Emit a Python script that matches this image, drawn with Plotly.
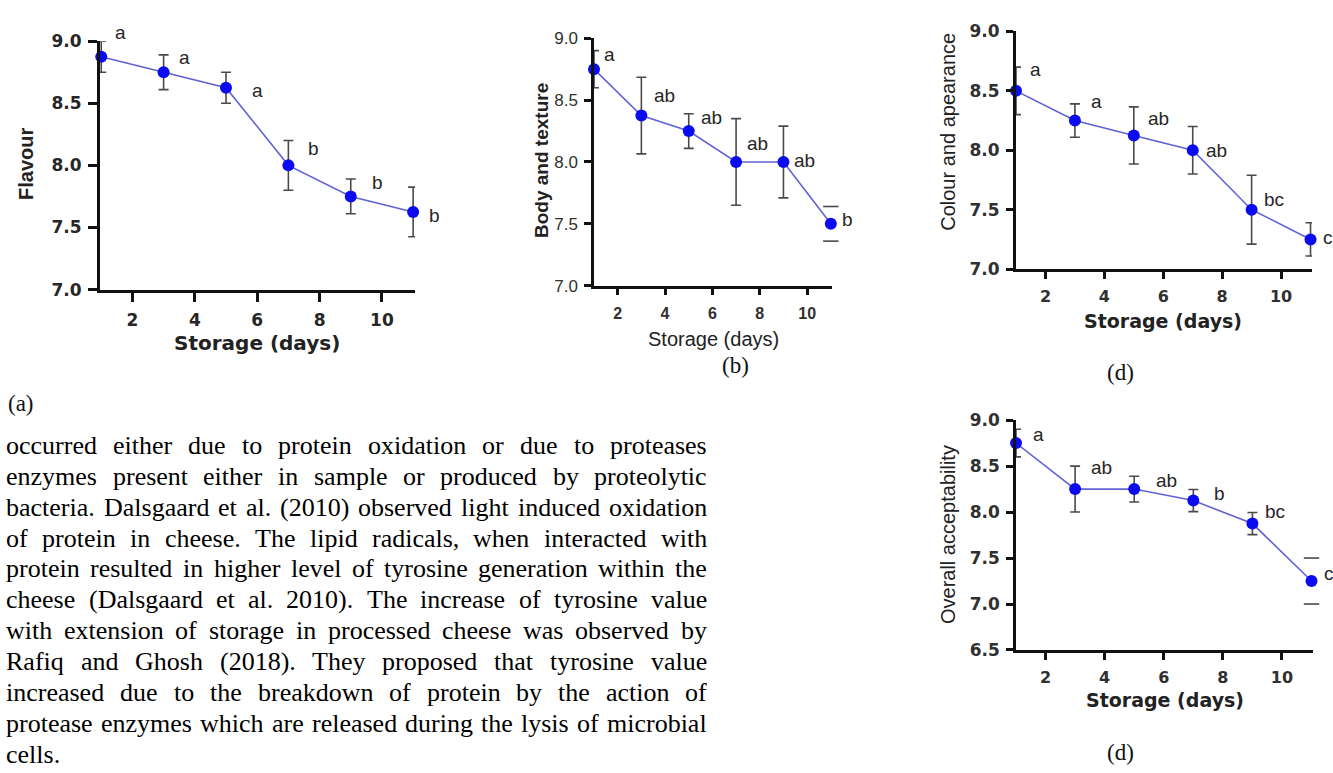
import plotly.graph_objects as go

W, H = 1333, 773

# ---------------- data ----------------
days = [1, 3, 5, 7, 9, 11]
x_ticks = [2, 4, 6, 8, 10]

flavour = [8.875, 8.75, 8.625, 8.0, 7.75, 7.625]
flavour_err = [0.125, 0.14, 0.125, 0.2, 0.14, 0.2]
flavour_grp = ["a", "a", "a", "b", "b", "b"]

body = [8.75, 8.375, 8.25, 8.0, 8.0, 7.5]
body_err = [0.15, 0.31, 0.14, 0.35, 0.29, 0.14]
body_grp = ["a", "ab", "ab", "ab", "ab", "b"]

colour = [8.5, 8.25, 8.125, 8.0, 7.5, 7.25]
colour_err = [0.2, 0.14, 0.24, 0.2, 0.29, 0.14]
colour_grp = ["a", "a", "ab", "ab", "bc", "c"]

overall = [8.75, 8.25, 8.25, 8.125, 7.875, 7.25]
overall_err = [0.15, 0.25, 0.14, 0.12, 0.12, 0.25]
overall_grp = ["a", "ab", "ab", "b", "bc", "c"]

y_ticks_a = [7.0, 7.5, 8.0, 8.5, 9.0]
y_ticks_d = [6.5, 7.0, 7.5, 8.0, 8.5, 9.0]

para_lines = [
    "occurred either due to protein oxidation or due to proteases",
    "enzymes present either in sample or produced by proteolytic",
    "bacteria. Dalsgaard et al. (2010) observed light induced oxidation",
    "of protein in cheese. The lipid radicals, when interacted with",
    "protein resulted in higher level of tyrosine generation within the",
    "cheese (Dalsgaard et al. 2010). The increase of tyrosine value",
    "with extension of storage in processed cheese was observed by",
    "Rafiq and Ghosh (2018).   They proposed that tyrosine value",
    "increased due to the breakdown of protein by the action of",
    "protease enzymes which are released during the lysis of microbial",
    "cells.",
]

# ---------------- styling ----------------
SANS = "Liberation Sans, Arial, sans-serif"
NARROW = "Liberation Sans Narrow, Arial Narrow, Liberation Sans, Arial, sans-serif"
VERD = "DejaVu Sans, Verdana, sans-serif"
SERIF = "Liberation Serif, Times New Roman, serif"

MARKER_C = "#0b0bef"
LINE_C = "#6262d4"
ERR_C = "#4a4a4a"


def px(x):
    return x / W


def py(y):
    return 1 - y / H


panels = [
    dict(name="flavour", y=flavour, err=flavour_err, grp=flavour_grp, cap_only=[],
         xd=(100, 415), yd=(32, 287), xr=[0.96, 11.06], yr=[7.0, 9.0], yt=y_ticks_a,
         tickfont_y=dict(family=VERD, size=17, color="#262626", weight="bold"),
         tickfont_x=dict(family=VERD, size=17, color="#262626", weight="bold"),
         lw=3, tl=9,
         ytitle="Flavour", ytitle_pos=(26, 158), ytitle_font=dict(family=SANS, size=20, color="#222", weight="bold"),
         xtitle="Storage (days)", xtitle_pos=(257, 342), xtitle_font=dict(family=VERD, size=20, color="#222", weight="bold"),
         shifts=[(19, 24), (21, 15), (31, -3), (25, 17), (27, 14), (21, -4)]),
    dict(name="body", y=body, err=body_err, grp=body_grp, cap_only=[5],
         xd=(594, 832), yd=(29, 283), xr=[1.0, 11.05], yr=[7.0, 9.0], yt=y_ticks_a,
         tickfont_y=dict(family=SANS, size=17, color="#303030"),
         tickfont_x=dict(family=SANS, size=16, color="#303030", weight="bold"),
         lw=2.5, tl=7,
         ytitle="Body and texture", ytitle_pos=(542, 155), ytitle_font=dict(family=SANS, size=19, color="#222", weight="bold"),
         xtitle="Storage (days)", xtitle_pos=(714, 338), xtitle_font=dict(family=NARROW, size=20, color="#222"),
         shifts=[(15, 15), (23, 20), (23, 14), (21, 18), (21, 1), (17, 4)]),
    dict(name="colour", y=colour, err=colour_err, grp=colour_grp, cap_only=[],
         xd=(1016, 1312), yd=(22, 266), xr=[1.0, 11.05], yr=[7.0, 9.0], yt=y_ticks_a,
         tickfont_y=dict(family=VERD, size=17, color="#303030", weight="bold"),
         tickfont_x=dict(family=VERD, size=16, color="#303030", weight="bold"),
         lw=3, tl=7,
         ytitle="Colour and apearance", ytitle_pos=(948, 125), ytitle_font=dict(family=SANS, size=20, color="#222"),
         xtitle="Storage (days)", xtitle_pos=(1163, 319), xtitle_font=dict(family=VERD, size=19, color="#222", weight="bold"),
         shifts=[(19, 21), (22, 19), (25, 17), (24, 0), (22, 10), (17, 2)]),
    dict(name="overall", y=overall, err=overall_err, grp=overall_grp, cap_only=[5],
         xd=(1016, 1313), yd=(421, 657), xr=[1.0, 11.05], yr=[6.5, 9.0], yt=y_ticks_d,
         tickfont_y=dict(family=VERD, size=17, color="#303030", weight="bold"),
         tickfont_x=dict(family=VERD, size=16, color="#303030", weight="bold"),
         lw=2.5, tl=7,
         ytitle="Overall acceptability", ytitle_pos=(948, 539), ytitle_font=dict(family=SANS, size=20, color="#222"),
         xtitle="Storage (days)", xtitle_pos=(1165, 708), xtitle_font=dict(family=VERD, size=19, color="#222", weight="bold"),
         shifts=[(22, 9), (26, 22), (32, 9), (26, 7), (23, 12), (17, 8)]),
]

fig = go.Figure()
annotations = []
layout_axes = {}

for i, p in enumerate(panels):
    k = "" if i == 0 else str(i + 1)
    xa, ya = "x" + k, "y" + k
    err_main = [0 if j in p["cap_only"] else e for j, e in enumerate(p["err"])]
    fig.add_trace(go.Scatter(
        x=days, y=p["y"], xaxis=xa, yaxis=ya, mode="lines+markers",
        line=dict(color=LINE_C, width=1.6),
        marker=dict(color=MARKER_C, size=12),
        error_y=dict(type="data", array=err_main, color=ERR_C, thickness=1.6, width=5),
        cliponaxis=False, showlegend=False, hoverinfo="x+y",
    ))
    if p["cap_only"]:
        cx, cy = [], []
        for j in p["cap_only"]:
            cx += [days[j], days[j]]
            cy += [p["y"][j] + p["err"][j], p["y"][j] - p["err"][j]]
        fig.add_trace(go.Scatter(
            x=cx, y=cy, xaxis=xa, yaxis=ya, mode="markers",
            marker=dict(symbol="line-ew", size=11, line=dict(color=ERR_C, width=1.6)),
            cliponaxis=False, showlegend=False, hoverinfo="skip",
        ))
    layout_axes["xaxis" + k] = dict(
        domain=[px(p["xd"][0]), px(p["xd"][1])], range=p["xr"], anchor=ya,
        tickmode="array", tickvals=x_ticks, ticktext=[str(t) for t in x_ticks],
        ticks="outside", ticklen=p["tl"], tickwidth=2.5, tickcolor="#111",
        showline=True, linewidth=p["lw"], linecolor="#111",
        showgrid=False, zeroline=False, tickfont=p["tickfont_x"], ticklabelstandoff=4,
    )
    layout_axes["yaxis" + k] = dict(
        domain=[py(p["yd"][1]), py(p["yd"][0])], range=p["yr"], anchor=xa,
        tickmode="array", tickvals=p["yt"], ticktext=["%.1f" % t for t in p["yt"]],
        ticks="outside", ticklen=p["tl"], tickwidth=2.5, tickcolor="#111",
        showline=True, linewidth=p["lw"], linecolor="#111",
        showgrid=False, zeroline=False, tickfont=p["tickfont_y"], ticklabelstandoff=3,
    )
    # significance letters
    for j, g in enumerate(p["grp"]):
        dx, dy = p["shifts"][j]
        annotations.append(dict(
            x=days[j], y=p["y"][j], xref=xa, yref=ya, text=g, showarrow=False,
            xshift=dx, yshift=dy, font=dict(family=SANS, size=19, color="#262626"),
        ))
    # axis titles
    annotations.append(dict(
        x=px(p["ytitle_pos"][0]), y=py(p["ytitle_pos"][1]), xref="paper", yref="paper",
        text=p["ytitle"], textangle=-90, showarrow=False, font=p["ytitle_font"],
        xanchor="center", yanchor="middle",
    ))
    annotations.append(dict(
        x=px(p["xtitle_pos"][0]), y=py(p["xtitle_pos"][1]), xref="paper", yref="paper",
        text=p["xtitle"], showarrow=False, font=p["xtitle_font"],
        xanchor="center", yanchor="middle",
    ))

# panel captions
for txt, cx, cy in [("(a)", 21, 404), ("(b)", 735, 365), ("(d)", 1120, 372), ("(d)", 1120, 762)]:
    annotations.append(dict(
        x=px(cx), y=py(cy), xref="paper", yref="paper", text=txt, showarrow=False,
        font=dict(family=SERIF, size=23, color="#111"), xanchor="center", yanchor="middle",
    ))

# ---------------- justified paragraph ----------------
TW = {" ": 250, "(": 333, ")": 333, ",": 250, ".": 250,
      "A": 722, "B": 667, "C": 667, "D": 722, "E": 611, "F": 556, "G": 722, "H": 722,
      "I": 333, "J": 389, "K": 722, "L": 611, "M": 889, "N": 722, "O": 722, "P": 556,
      "Q": 722, "R": 667, "S": 556, "T": 611, "U": 722, "V": 722, "W": 944, "X": 722,
      "Y": 722, "Z": 611,
      "a": 444, "b": 500, "c": 444, "d": 500, "e": 444, "f": 333, "g": 500, "h": 500,
      "i": 278, "j": 278, "k": 500, "l": 278, "m": 778, "n": 500, "o": 500, "p": 500,
      "q": 500, "r": 333, "s": 389, "t": 278, "u": 500, "v": 500, "w": 722, "x": 500,
      "y": 500, "z": 444}
FS = 26
X0, X1 = 6, 707
Y0, DY = 445, 31.7


def wwidth(s):
    return sum(TW.get(c, 500) for c in s) * FS / 1000.0


for i, line in enumerate(para_lines):
    words = line.split()
    yy = py(Y0 + i * DY + 2)
    if i < len(para_lines) - 1 and len(words) > 1:
        total = sum(wwidth(w) for w in words)
        gap = (X1 - X0 - total) / (len(words) - 1)
        xx = X0
        for w in words:
            annotations.append(dict(
                x=px(xx - 1), y=yy, xref="paper", yref="paper", text=w, showarrow=False,
                xanchor="left", yanchor="middle", borderpad=0,
                font=dict(family=SERIF, size=FS, color="#000"),
            ))
            xx += wwidth(w) + gap
    else:
        annotations.append(dict(
            x=px(X0 - 1), y=yy, xref="paper", yref="paper", text=line, showarrow=False,
            xanchor="left", yanchor="middle", borderpad=0,
            font=dict(family=SERIF, size=FS, color="#000"),
        ))

fig.update_layout(
    width=W, height=H, margin=dict(l=0, r=0, t=0, b=0),
    paper_bgcolor="white", plot_bgcolor="white", showlegend=False,
    annotations=annotations, **layout_axes,
)

fig.write_html("out.html", config={"displayModeBar": False},
               post_script="document.body.style.margin='0';")
